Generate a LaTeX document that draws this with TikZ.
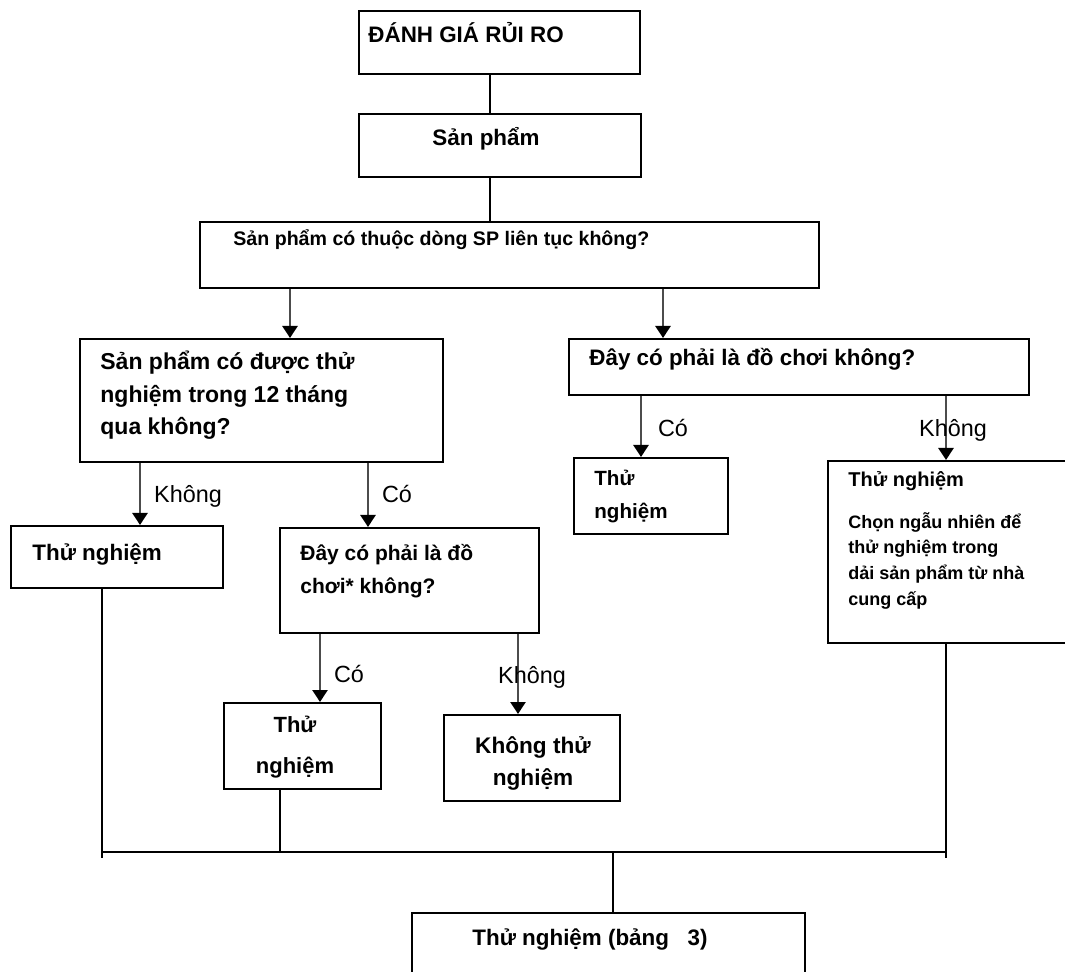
\documentclass[tikz,border=0pt]{standalone}
\usepackage{fontspec}
\setmainfont{Liberation Sans}
\usetikzlibrary{positioning}
\usetikzlibrary{arrows.meta}
\usetikzlibrary{calc}

\tikzset{
  box/.style 2 args={draw, rectangle, line width=1.1pt, inner sep=0pt,
    minimum width=#1*0.5pt, minimum height=#2*0.5pt, anchor=north west},
  txt/.style={inner sep=0pt, anchor=base west, align=left,
    font=\bfseries\fontsize{11.2}{14}\selectfont},
  yesno/.style={inner sep=0pt, anchor=base, font=\fontsize{11.7}{14}\selectfont},
  flow/.style={draw=black!70, line width=1.3pt,
    -{Triangle[color=black, length=6pt, width=7.5pt]}},
  link/.style={line width=0.8pt}
}

\begin{document}
\begin{tikzpicture}[x=0.5pt, y=-0.5pt]
  \useasboundingbox (0,0) rectangle (1065,972);
  \clip (0,0) rectangle (1065,972);

  % Define the boxes
  \node[box={281}{63}] (risk) at (358,10) {};
  \node[box={282}{63}] (prod) at (358,113) {};
  \node[box={619}{66}] (line) at (199,221) {};
  \node[box={363}{123}] (tested) at (79,338) {};
  \node[box={460}{56}] (toy) at (568,338) {};
  \node[box={154}{76}] (testa) at (573,457) {};
  \node[box={260}{182}] (testrand) at (827,460) {};
  \node[box={212}{62}] (testno) at (10,525) {};
  \node[box={259}{105}] (toytwo) at (279,527) {};
  \node[box={157}{86}] (testb) at (223,702) {};
  \node[box={176}{86}] (notest) at (443,714) {};
  \node[box={393}{100}] (final) at (411,912) {};

  % Texts in the boxes (multi-line texts sit on their last line)
  \node[txt] (risktxt) at (368,43) {ĐÁNH GIÁ RỦI RO};
  \node[txt, anchor=base] (prodtxt) at (486,146) {Sản phẩm};
  \node[txt, font=\bfseries\fontsize{9.8}{12}\selectfont] (linetxt) at (233,246)
    {Sản phẩm có thuộc dòng SP liên tục không?};
  \node[txt, font=\bfseries\fontsize{11.5}{16.25}\selectfont] (testedtxt) at (100,435)
    {Sản phẩm có được thử\\nghiệm trong 12 tháng\\qua không?};
  \node[txt] (toytxt) at (589,366) {Đây có phải là đồ chơi không?};
  \node[txt, font=\bfseries\fontsize{10.3}{17}\selectfont] (testatxt) at (594,519)
    {Thử\\nghiệm};
  \node[txt, font=\bfseries\fontsize{10}{12}\selectfont] (testrandtxt) at (848,487)
    {Thử nghiệm};
  \node[txt, font=\bfseries\fontsize{9}{12.8}\selectfont] (randtxt) at (848,605)
    {Chọn ngẫu nhiên để\\thử nghiệm trong\\dải sản phẩm từ nhà\\cung cấp};
  \node[txt] (testnotxt) at (32,560) {Thử nghiệm};
  \node[txt, font=\bfseries\fontsize{10.5}{16.5}\selectfont] (toytwotxt) at (300,593)
    {Đây có phải là đồ\\chơi* không?};
  \node[txt, anchor=base, align=center, font=\bfseries\fontsize{11}{20.5}\selectfont]
    (testbtxt) at (295,773) {Thử\\nghiệm};
  \node[txt, anchor=base, align=center, font=\bfseries\fontsize{11.3}{16}\selectfont]
    (notesttxt) at (533,785) {Không thử\\nghiệm};
  \node[txt] (finaltxt) at (472,945) {Thử nghiệm (bảng~~~3)};

  % Draw the plain lines
  \coordinate (xa) at (490,0);
  \draw[link] (risk.south -| xa) -- (prod.north -| xa);
  \draw[link] (prod.south -| xa) -- (line.north -| xa);

  % Draw the arrows
  \foreach \from/\to/\x in {line/tested/290, line/toy/663, tested/testno/140,
      tested/toytwo/368, toy/testa/641, toy/testrand/946, toytwo/testb/320,
      toytwo/notest/518}
    \draw[flow] (\from.south -| \x,0) -- (\to.north -| \x,0);

  \foreach \x/\y/\t [count=\i] in {188/503/Không, 397/503/Có, 673/437/Có,
      953/437/Không, 349/682/Có, 532/683/Không}
    \node[yesno] (yn\i) at (\x,\y) {\t};

  % Draw the bus to the last box
  \coordinate (busl) at (102,852);
  \coordinate (busr) at (946,852);
  \draw[line width=1.2pt] (busl) -- (busr);
  \draw[link] (testno.south -| busl) -- ($(busl)+(0,6)$);
  \draw[link] (testrand.south -| busr) -- ($(busr)+(0,6)$);
  \draw[link] (testb.south -| 280,0) -- (busl -| 280,0);
  \draw[link] (busl -| 613,0) -- (final.north -| 613,0);
\end{tikzpicture}
\end{document}
